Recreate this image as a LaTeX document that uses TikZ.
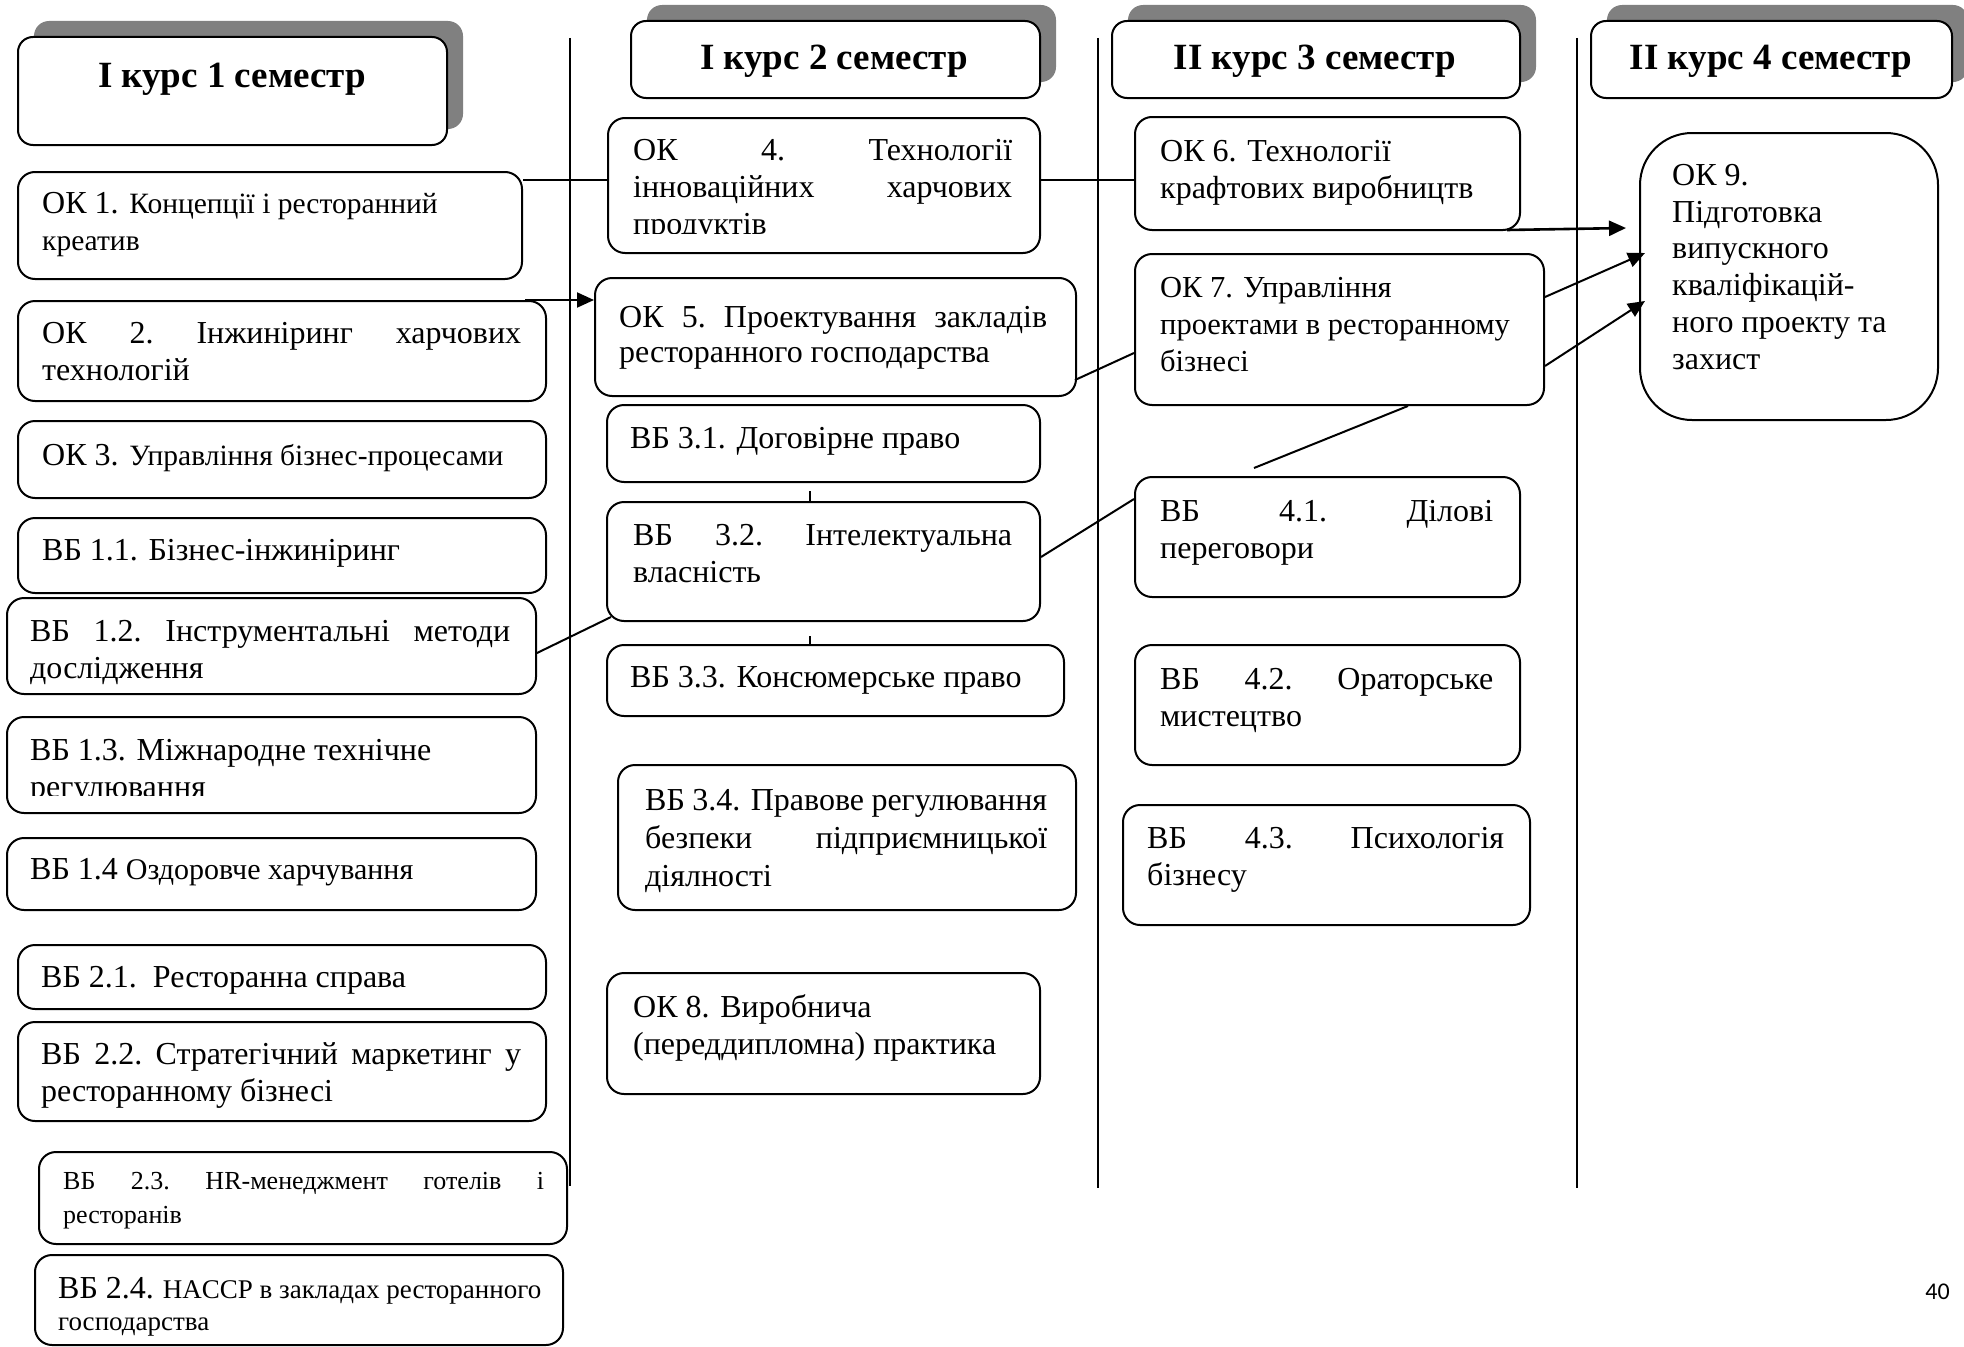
\documentclass[tikz,border=0pt]{standalone}
\usepackage{fontspec}
\setmainfont{Liberation Serif}
\newfontfamily\pgnumfont{Carlito}
\usetikzlibrary{arrows.meta,shadows,calc}
\newcommand{\bsz}{\fontsize{32}{37}\selectfont}
\newcommand{\ssz}{\fontsize{29.5}{36}\selectfont}
\newcommand{\jl}[2]{\hbox to #1pt{#2}}
\begin{document}
\begin{tikzpicture}[x=1pt,y=-1pt,
  box/.style={draw, line width=2pt, rounded corners=17pt, fill=white, inner sep=0pt, anchor=north west},
  hdr/.style={box, rounded corners=15pt, drop shadow={shadow xshift=16pt, shadow yshift=16pt, fill=black!50, opacity=1}},
  txt/.style={inner sep=0pt, anchor=base west, align=left, font=\bsz},
  htxt/.style={inner sep=0pt, anchor=base, font=\fontsize{37}{44}\selectfont\bfseries},
  link/.style={line width=2pt},
  arr/.style={line width=2pt, -{Triangle[length=17pt,width=15pt]}},
  sepline/.style={line width=2pt}]
\useasboundingbox (0,0) rectangle (1964,1346);
\fill[white] (0,0) rectangle (1964,1346);

% column separators
\draw[sepline] (570,38) -- (570,1186);
\draw[sepline] (1098,38) -- (1098,1188);
\draw[sepline] (1577,38) -- (1577,1188);

% headers
\node[hdr, minimum width=429pt, minimum height=108pt] (h1) at (17,36) {};
\node[hdr, minimum width=409pt, minimum height=77pt] (h2) at (630,20) {};
\node[hdr, minimum width=408pt, minimum height=77pt] (h3) at (1111,20) {};
\node[hdr, minimum width=361pt, minimum height=77pt] (h4) at (1590,20) {};
\node[htxt] (h1t) at (232,88) {І курс 1 семестр};
\node[htxt] (h2t) at (834,70) {І курс 2 семестр};
\node[htxt] (h3t) at (1315,70) {ІІ курс 3 семестр};
\node[htxt] (h4t) at (1771,70) {ІІ курс 4 семестр};

% column 1 boxes
\node[box, minimum width=504pt, minimum height=107pt] (ok1) at (17,171) {};
\node[box, minimum width=528pt, minimum height=100pt] (ok2) at (17,300) {};
\node[box, minimum width=528pt, minimum height=77pt] (ok3) at (17,420) {};
\node[box, minimum width=528pt, minimum height=75pt] (vb11) at (17,517) {};
\node[box, minimum width=529pt, minimum height=96pt] (vb12) at (6,597) {};
\node[box, minimum width=529pt, minimum height=96pt] (vb13) at (6,716) {};
\node[box, minimum width=529pt, minimum height=72pt] (vb14) at (6,837) {};
\node[box, minimum width=528pt, minimum height=64pt] (vb21) at (17,944) {};
\node[box, minimum width=528pt, minimum height=99pt] (vb22) at (17,1021) {};
\node[box, minimum width=528pt, minimum height=92pt] (vb23) at (38,1151) {};
\node[box, minimum width=528pt, minimum height=90pt] (vb24) at (34,1254) {};

% column 2 boxes
\node[box, minimum width=432pt, minimum height=135pt] (ok4) at (607,117) {};
\node[box, minimum width=481pt, minimum height=118pt] (ok5) at (594,277) {};
\node[box, minimum width=433pt, minimum height=77pt] (vb31) at (606,404) {};
\node[box, minimum width=433pt, minimum height=119pt] (vb32) at (606,501) {};
\node[box, minimum width=457pt, minimum height=71pt] (vb33) at (606,644) {};
\node[box, minimum width=458pt, minimum height=145pt] (vb34) at (617,764) {};
\node[box, minimum width=433pt, minimum height=121pt] (ok8) at (606,972) {};

% column 3 boxes
\node[box, minimum width=385pt, minimum height=113pt] (ok6) at (1134,116) {};
\node[box, minimum width=409pt, minimum height=151pt] (ok7) at (1134,253) {};
\node[box, minimum width=385pt, minimum height=120pt] (vb41) at (1134,476) {};
\node[box, minimum width=385pt, minimum height=120pt] (vb42) at (1134,644) {};
\node[box, minimum width=407pt, minimum height=120pt] (vb43) at (1122,804) {};

% column 4 box
\node[box, rounded corners=52pt, minimum width=298pt, minimum height=287pt] (ok9) at (1639,132) {};

% texts column 1 (anchor = baseline of the last line)
\node[txt] (ok1t) at (42,250) {ОК 1. {\ssz Концепції і ресторанний}\\{\ssz креатив}};
\node[txt] (ok2t) at (42,380) {\jl{479}{ОК\hfill 2.\hfill Інжиніринг\hfill харчових}\\технологій};
\node[txt] (ok3t) at (42,465) {ОК 3. {\ssz Управління бізнес-процесами}};
\node[txt] (vb11t) at (42,560) {ВБ 1.1. Бізнес-інжиніринг};
\node[txt] (vb12t) at (30,678) {\jl{480}{ВБ\hfill 1.2.\hfill Інструментальні\hfill методи}\\дослідження};
\begin{scope}
\clip (0,700) rectangle (560,795);
\node[txt] (vb13t) at (30,797) {ВБ 1.3. Міжнародне технічне\\регулювання};
\end{scope}
\node[txt] (vb14t) at (30,879) {ВБ 1.4 {\fontsize{30}{37}\selectfont Оздоровче харчування}};
\node[txt] (vb21t) at (41,987) {ВБ 2.1.\ \ Ресторанна справа};
\node[txt] (vb22t) at (41,1101) {\jl{480}{ВБ\hfill 2.2.\hfill Стратегічний\hfill маркетинг\hfill у}\\ресторанному бізнесі};
\node[txt, font=\fontsize{26}{34}\selectfont] (vb23t) at (63,1223) {\jl{481}{ВБ\hfill 2.3.\hfill HR-менеджмент\hfill готелів\hfill і}\\ресторанів};
\node[txt, font=\fontsize{27}{32}\selectfont] (vb24t) at (58,1330) {{\bsz ВБ 2.4.} HACCP в закладах ресторанного\\господарства};

% texts column 2
\begin{scope}
\clip (600,110) rectangle (1045,233);
\node[txt] (ok4t) at (633,234) {\jl{379}{ОК\hfill 4.\hfill Технології}\\\jl{379}{інноваційних\hfill харчових}\\продуктів};
\end{scope}
\node[txt, font=\fontsize{32}{35}\selectfont] (ok5t) at (619,362) {\jl{428}{ОК\hfill 5.\hfill Проектування\hfill закладів}\\ресторанного господарства};
\node[txt] (vb31t) at (630,448) {ВБ 3.1. Договірне право};
\node[txt] (vb32t) at (633,582) {\jl{379}{ВБ\hfill 3.2.\hfill Інтелектуальна}\\власність};
\node[txt] (vb33t) at (630,687) {ВБ 3.3. Консюмерське право};
\node[txt, font=\fontsize{32}{38}\selectfont] (vb34t) at (645,886) {\jl{402}{ВБ 3.4. Правове регулювання}\\\jl{402}{безпеки\hfill підприємницької}\\діялності};
\node[txt] (ok8t) at (633,1054) {ОК 8. Виробнича\\(переддипломна) практика};

% texts column 3
\node[txt] (ok6t) at (1160,198) {ОК 6. Технології\\крафтових виробництв};
\node[txt, font=\fontsize{30.5}{37}\selectfont] (ok7t) at (1160,371) {ОК 7. Управління\\проектами в ресторанному\\бізнесі};
\node[txt] (vb41t) at (1160,558) {\jl{333}{ВБ\hfill 4.1.\hfill Ділові}\\переговори};
\node[txt] (vb42t) at (1160,726) {\jl{333}{ВБ\hfill 4.2.\hfill Ораторське}\\мистецтво};
\node[txt] (vb43t) at (1147,885) {\jl{357}{ВБ\hfill 4.3.\hfill Психологія}\\бізнесу};

% text column 4
\node[txt, font=\fontsize{32}{36.7}\selectfont] (ok9t) at (1672,369) {ОК 9.\\Підготовка\\випускного\\кваліфікацій-\\ного проекту та\\захист};

% page number
\node[inner sep=0pt, anchor=base east, font=\pgnumfont\fontsize{24}{28}\selectfont] (pg) at (1950,1299) {40};

% connectors
\coordinate (r1) at ([yshift=-9pt]ok1.north east);
\draw[link] (r1) -- (r1 -| ok4.west);
\draw[link] (r1 -| ok4.east) -- (r1 -| ok6.west);
\draw[arr] ([xshift=-22pt]ok2.north east) -- (ok2.north -| ok5.west);
\draw[link] ($(ok5.south east)+(-2,-17)$) -- ($(ok7.north west)+(0,100)$);
\draw[link] ($(vb12.north east)+(0,56)$) -- ($(vb32.south west)+(5,-5)$);
\draw[link] ($(vb32.north east)+(0,56)$) -- ($(vb41.north west)+(0,23)$);
\coordinate (fe) at ($(vb41.north west)+(120,-8)$);
\draw[link] ($(ok7.south west)+(274,0)$) -- (fe);
\draw[arr, line width=2.6pt] ($(ok6.south east)+(-14,-1)$) -- ($(ok9.north west)+(-13,96)$);
\draw[arr] ($(ok7.north east)+(0,44)$) -- ($(ok9.north west)+(6,121)$);
\draw[arr] ($(ok7.north east)+(0,113)$) -- ($(ok9.north west)+(6,169)$);
\draw[link] ($(vb32.north west)+(204,0)$) -- ++(0,-10);
\draw[link] ($(vb33.north west)+(204,0)$) -- ++(0,-8);
\end{tikzpicture}
\end{document}
